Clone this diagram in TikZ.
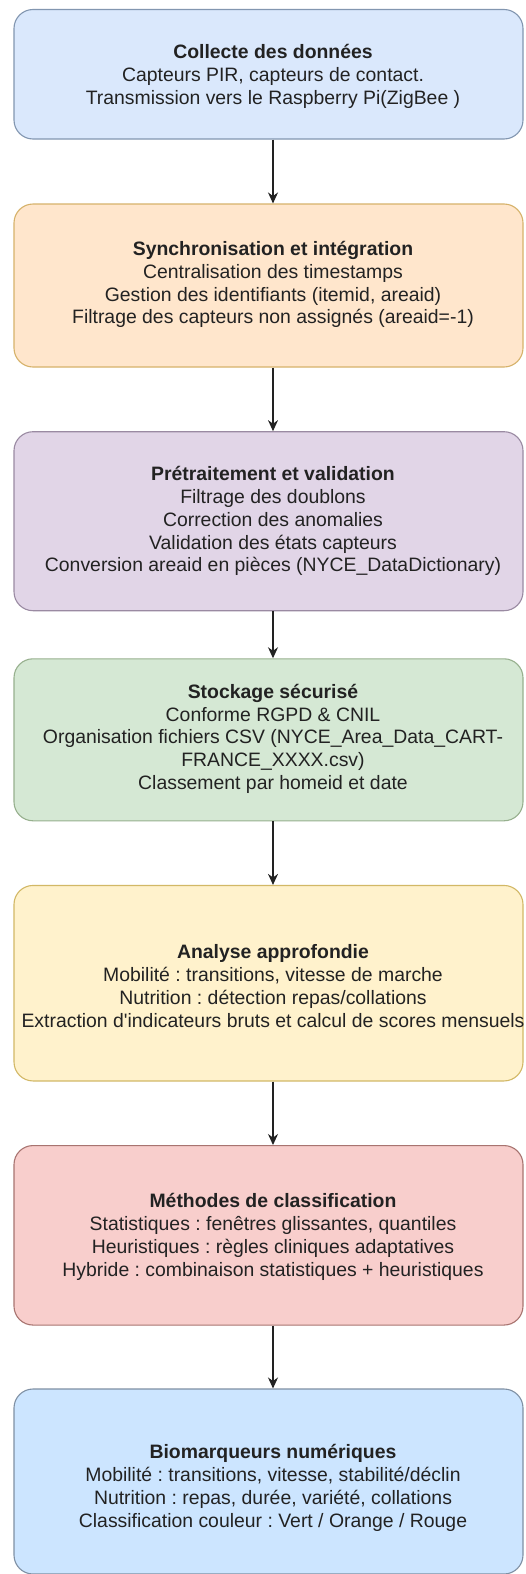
\documentclass[tikz,border=0pt]{standalone}
\usepackage{fontspec}
\setmainfont{Liberation Sans}
\usetikzlibrary{arrows.meta}
\frenchspacing
\definecolor{f1}{HTML}{DAE8FC}\definecolor{s1}{HTML}{8296B0}
\definecolor{f2}{HTML}{FFE6CC}\definecolor{s2}{HTML}{D6B26A}
\definecolor{f3}{HTML}{E1D5E7}\definecolor{s3}{HTML}{9A8AA2}
\definecolor{f4}{HTML}{D5E8D4}\definecolor{s4}{HTML}{97B08E}
\definecolor{f5}{HTML}{FFF2CC}\definecolor{s5}{HTML}{D2B866}
\definecolor{f6}{HTML}{F8CECC}\definecolor{s6}{HTML}{A87470}
\definecolor{f7}{HTML}{CCE5FF}\definecolor{s7}{HTML}{7F90A4}
\definecolor{ink}{HTML}{222222}
\tikzset{
  box/.style={rectangle, rounded corners=19pt, line width=1.1pt, minimum width=509pt, inner sep=0pt},
  txt/.style={align=center, inner sep=0pt, text=ink, font=\frenchspacing\fontsize{19.4}{22.8}\selectfont},
  arr/.style={-{Stealth[length=11pt,width=10pt]}, line width=1.2pt, draw=ink}
}
\begin{document}
\begin{tikzpicture}[x=1pt,y=-1pt]
\useasboundingbox (0,0) rectangle (526,1574);
\fill[white] (0,0) rectangle (526,1574);
% boxes
\node[box, fill=f1, draw=s1, minimum height=129.5pt] (b1) at (268.5,74.25) {};
\node[box, fill=f2, draw=s2, minimum height=163pt] (b2) at (268.5,285.5) {};
\node[box, fill=f3, draw=s3, minimum height=179pt] (b3) at (268.5,521.2) {};
\node[box, fill=f4, draw=s4, minimum height=162pt] (b4) at (268.5,739.8) {};
\node[box, fill=f5, draw=s5, minimum height=195.5pt] (b5) at (268.5,983.2) {};
\node[box, fill=f6, draw=s6, minimum height=179.5pt] (b6) at (268.5,1235.3) {};
\node[box, fill=f7, draw=s7, minimum height=185pt] (b7) at (268.5,1481.5) {};
% texts
\node[txt] (t1) at ([xshift=4.5pt,yshift=-2pt]b1.center) {\textbf{Collecte des données}\\Capteurs PIR, capteurs de contact.\\Transmission vers le Raspberry Pi(ZigBee )};
\node[txt] (t2) at ([xshift=4.5pt,yshift=1pt]b2.center) {\textbf{Synchronisation et intégration}\\Centralisation des timestamps\\Gestion des identifiants (itemid, areaid)\\Filtrage des capteurs non assignés (areaid=-1)};
\node[txt] (t3) at ([xshift=4.5pt,yshift=0pt]b3.center) {\textbf{Prétraitement et validation}\\Filtrage des doublons\\Correction des anomalies\\Validation des états capteurs\\Conversion areaid en pièces (NYCE\_DataDictionary)};
\node[txt] (t4) at ([xshift=4.5pt,yshift=1pt]b4.center) {\textbf{Stockage sécurisé}\\Conforme RGPD \& CNIL\\Organisation fichiers CSV (NYCE\_Area\_Data\_CART-\\FRANCE\_XXXX.csv)\\Classement par homeid et date};
\node[txt] (t5) at ([xshift=4.5pt,yshift=-3pt]b5.center) {\textbf{Analyse approfondie}\\Mobilité : transitions, vitesse de marche\\Nutrition : détection repas/collations\\Extraction d\textquotesingle indicateurs bruts et calcul de scores mensuels};
\node[txt] (t6) at ([xshift=4.5pt,yshift=-1.5pt]b6.center) {\textbf{Méthodes de classification}\\Statistiques : fenêtres glissantes, quantiles\\Heuristiques : règles cliniques adaptatives\\Hybride : combinaison statistiques + heuristiques};
\node[txt] (t7) at ([xshift=4.5pt,yshift=-6.5pt]b7.center) {\textbf{Biomarqueurs numériques}\\Mobilité : transitions, vitesse, stabilité/déclin\\Nutrition : repas, durée, variété, collations\\Classification couleur : Vert / Orange / Rouge};
% connectors
\draw[arr] (t1 |- b1.south) -- (t1 |- b2.north);
\draw[arr] (t2 |- b2.south) -- (t2 |- b3.north);
\draw[arr] (t3 |- b3.south) -- (t3 |- b4.north);
\draw[arr] (t4 |- b4.south) -- (t4 |- b5.north);
\draw[arr] (t5 |- b5.south) -- (t5 |- b6.north);
\draw[arr] (t6 |- b6.south) -- (t6 |- b7.north);
\end{tikzpicture}
\end{document}
